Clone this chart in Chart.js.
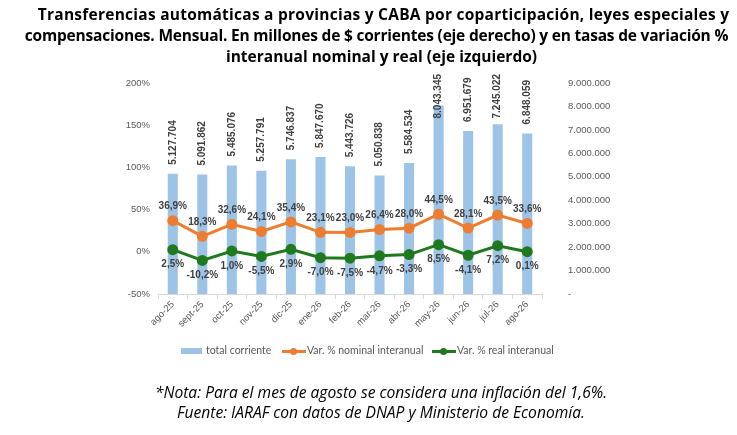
<!DOCTYPE html>
<html lang="es">
<head>
<meta charset="utf-8">
<title>Transferencias automáticas a provincias y CABA</title>
<script src="https://cdn.jsdelivr.net/npm/chart.js"></script>
<style>
  body { margin: 0; background: #fff; }
  #wrap { position: relative; width: 737px; height: 435px; overflow: hidden; }
  #chart { position: absolute; left: 0; top: 0; }
  .title { position: absolute; left: 0; text-align: center; white-space: nowrap;
           font-family: "Open Sans", Lato, sans-serif; font-weight: bold; font-size: 15.5px;
           line-height: 21px; color: #000; }
  .note { position: absolute; left: 0; top: 383px; width: 762px; text-align: center;
          font-family: "Open Sans", Lato, sans-serif; font-style: italic; font-size: 15.6px;
          line-height: 19.5px; color: #000; }
  .legend { position: absolute; top: 344px; left: 0; width: 737px; height: 14px;
            font-family: Lato, sans-serif; font-size: 10.5px; color: #595959; }
  .legend span { position: absolute; top: 0; white-space: nowrap; }
  .sw { position: absolute; }
</style>
</head>
<body>
<div id="wrap">
  <canvas id="chart" width="737" height="435"></canvas>
  <div class="title" style="top:4px;width:767px;letter-spacing:0.25px">Transferencias automáticas a provincias y CABA por coparticipación, leyes especiales y</div>
  <div class="title" style="top:25px;width:753px;letter-spacing:-0.2px">compensaciones. Mensual. En millones de $ corrientes (eje derecho) y en tasas de variación %</div>
  <div class="title" style="top:46px;width:763px">interanual nominal y real (eje izquierdo)</div>
  <div class="legend">
    <div class="sw" style="left:181px;top:4px;width:21px;height:6px;background:#9dc3e6"></div>
    <span style="left:206px">total corriente</span>
    <div class="sw" style="left:282px;top:6px;width:24px;height:3px;background:#ed7d31"></div>
    <div class="sw" style="left:290px;top:4px;width:7px;height:7px;border-radius:50%;background:#ed7d31"></div>
    <span style="left:307px">Var. % nominal interanual</span>
    <div class="sw" style="left:432px;top:6px;width:24px;height:3px;background:#1f7a1f"></div>
    <div class="sw" style="left:440px;top:4px;width:7px;height:7px;border-radius:50%;background:#1f7a1f"></div>
    <span style="left:457px">Var. % real interanual</span>
  </div>
  <div class="note">*Nota: Para el mes de agosto se considera una inflación del 1,6%.<br>Fuente: IARAF con datos de DNAP y Ministerio de Economía.</div>
</div>

<script>
// meses
const labels = ['ago-25', 'sept-25', 'oct-25', 'nov-25', 'dic-25', 'ene-26', 'feb-26',
                'mar-26', 'abr-26', 'may-26', 'jun-26', 'jul-26', 'ago-26'];

// total corriente, millones de $ (eje derecho)
const totalCorriente = [5127704, 5091862, 5485076, 5257791, 5746837, 5847670, 5443726,
                        5050838, 5584534, 8043345, 6951679, 7245022, 6848059];

// variaciones % interanuales (eje izquierdo)
const varNominal = [36.9, 18.3, 32.6, 24.1, 35.4, 23.1, 23.0, 26.4, 28.0, 44.5, 28.1, 43.5, 33.6];
const varReal = [2.5, -10.2, 1.0, -5.5, 2.9, -7.0, -7.5, -4.7, -3.3, 8.5, -4.1, 7.2, 0.1];

const miles = v => Math.round(v).toString().replace(/\B(?=(\d{3})+(?!\d))/g, '.');
const pct = v => v.toFixed(1).replace('.', ',') + '%';

// etiquetas de datos, estilo Excel
const etiquetas = {
    id: 'etiquetas',
    afterDatasetsDraw(chart) {
        const ctx = chart.ctx;
        ctx.save();
        ctx.fillStyle = '#404040';
        ctx.font = 'bold 10px "Liberation Sans", Arial, sans-serif';

        // barras: texto vertical encima de cada barra (sin pasar del borde superior)
        chart.getDatasetMeta(0).data.forEach((bar, i) => {
            const txt = miles(totalCorriente[i]);
            const w = ctx.measureText(txt).width;
            const base = Math.max(bar.y - 9, 74 + w);
            ctx.save();
            ctx.translate(bar.x, base);
            ctx.rotate(-Math.PI / 2);
            ctx.textAlign = 'left';
            ctx.textBaseline = 'middle';
            ctx.fillText(txt, 0, 0);
            ctx.restore();
        });

        ctx.textAlign = 'center';
        ctx.textBaseline = 'middle';
        chart.getDatasetMeta(1).data.forEach((p, i) => ctx.fillText(pct(varNominal[i]), p.x, p.y - 14));
        chart.getDatasetMeta(2).data.forEach((p, i) => ctx.fillText(pct(varReal[i]), p.x, p.y + 15));
        ctx.restore();
    }
};

const tickFont = { family: '"Liberation Sans", Arial, sans-serif', size: 9.5 };

new Chart(document.getElementById('chart'), {
    data: {
        labels: labels,
        datasets: [
            {
                type: 'bar',
                label: 'total corriente',
                data: totalCorriente,
                yAxisID: 'y1',
                backgroundColor: '#9dc3e6',
                categoryPercentage: 1,
                barPercentage: 0.34,
                order: 3
            },
            {
                type: 'line',
                label: 'Var. % nominal interanual',
                data: varNominal,
                yAxisID: 'y',
                borderColor: '#ed7d31',
                backgroundColor: '#ed7d31',
                borderWidth: 3,
                pointRadius: 4,
                pointHoverRadius: 4,
                tension: 0,
                order: 1
            },
            {
                type: 'line',
                label: 'Var. % real interanual',
                data: varReal,
                yAxisID: 'y',
                borderColor: '#1f7a1f',
                backgroundColor: '#1f7a1f',
                borderWidth: 3,
                pointRadius: 4,
                pointHoverRadius: 4,
                tension: 0,
                order: 2
            }
        ]
    },
    options: {
        responsive: false,
        animation: false,
        layout: { padding: { top: 83, left: 0, right: 0, bottom: 0 } },
        plugins: { legend: { display: false }, tooltip: { enabled: false } },
        scales: {
            x: {
                offset: true,
                afterFit: s => { s.height = 141; },
                grid: { display: true, drawOnChartArea: false, offset: true, tickLength: 5, color: '#d9d9d9' },
                border: { display: true, color: '#d9d9d9' },
                ticks: { color: '#595959', font: tickFont, minRotation: 45, maxRotation: 45, padding: 0 }
            },
            y: {
                position: 'left',
                min: -50,
                max: 200,
                afterFit: s => { s.width = 158; },
                grid: { display: false, drawTicks: false },
                border: { display: false },
                ticks: { stepSize: 50, color: '#595959', font: tickFont, padding: 8, callback: v => v + '%' }
            },
            y1: {
                position: 'right',
                min: 0,
                max: 9000000,
                afterFit: s => { s.width = 195; },
                grid: { display: false, drawTicks: false },
                border: { display: false },
                ticks: { stepSize: 1000000, color: '#595959', font: tickFont, padding: 26,
                         callback: v => v === 0 ? '-' : miles(v) }
            }
        }
    },
    plugins: [etiquetas]
});
</script>
</body>
</html>
